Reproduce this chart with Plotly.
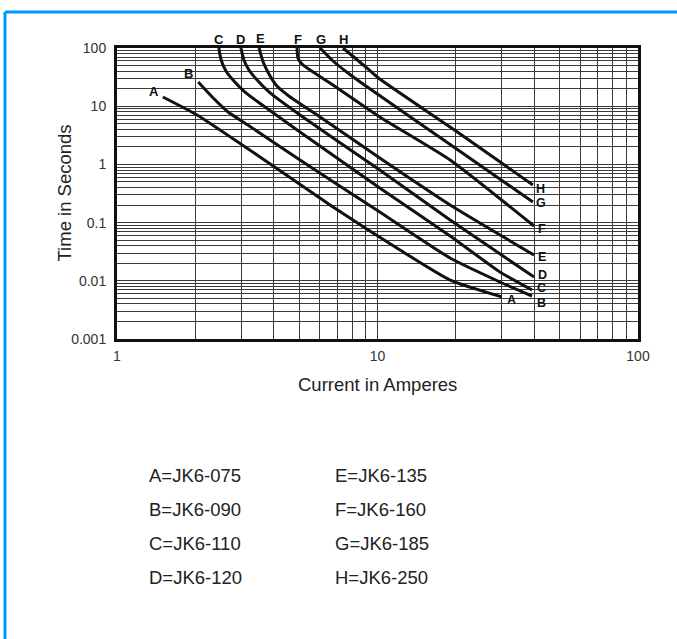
import math
import plotly.graph_objects as go

# ---- data ----
curve_names = ["A", "B", "C", "D", "E", "F", "G", "H"]
part_numbers = ["JK6-075", "JK6-090", "JK6-110", "JK6-120", "JK6-135", "JK6-160", "JK6-185", "JK6-250"]

A_current = [1.50, 2.03, 3.54, 6.75, 12.2, 19.0, 30.0]
A_time = [14.4, 7.06, 1.34, 0.185, 0.0338, 0.0103, 0.0053]

B_current = [2.05, 2.32, 2.67, 3.18, 5.04, 10.2, 19.0, 29.5, 39.2]
B_time = [26.0, 14.4, 7.95, 4.75, 1.19, 0.152, 0.0246, 0.00954, 0.00548]

C_current = [2.46, 2.51, 2.62, 2.81, 3.10, 3.48, 5.04, 10.2, 19.0, 29.5, 39.2]
C_time = [100, 62.2, 40.3, 27.1, 17.5, 11.8, 3.60, 0.393, 0.0589, 0.0142, 0.00695]

D_current = [2.99, 3.07, 3.21, 3.45, 3.87, 5.04, 10.2, 19.0, 39.9]
D_time = [100, 62.2, 41.9, 28.2, 16.9, 7.06, 0.801, 0.111, 0.0116]

E_current = [3.51, 3.64, 3.83, 4.11, 4.62, 6.02, 10.2, 19.0, 39.9]
E_time = [100, 57.5, 35.8, 22.2, 14.4, 6.52, 1.29, 0.201, 0.0277]

F_current = [4.91, 4.95, 5.13, 5.51, 6.57, 10.2, 19.0, 39.9]
F_time = [100, 67.3, 53.1, 41.9, 25.0, 6.52, 1.19, 0.0874]

G_current = [6.02, 6.75, 7.70, 8.80, 18.65, 39.5]
G_time = [100, 59.8, 37.2, 24.1, 2.33, 0.226]

H_current = [7.37, 8.20, 9.19, 10.2, 20.0, 39.5]
H_time = [100, 67.3, 43.6, 29.3, 3.75, 0.443]

y_tick_vals = [100, 10, 1, 0.1, 0.01, 0.001]
y_tick_text = ["100", "10", "1", "0.1", "0.01", "0.001"]
x_tick_vals = [1, 10, 100]
x_tick_text = ["1", "10", "100"]

curves = {
    "A": (A_current, A_time), "B": (B_current, B_time), "C": (C_current, C_time),
    "D": (D_current, D_time), "E": (E_current, E_time), "F": (F_current, F_time),
    "G": (G_current, G_time), "H": (H_current, H_time),
}

# label offsets (pixels) for start and end labels
start_label = {"A": (-9, 5), "B": (-10, 9), "C": (0, 9), "D": (0, 9), "E": (1, 10),
               "F": (1, 9), "G": (1, 9), "H": (1, 9)}
end_label = {"A": (10, -3), "B": (9, -7), "C": (9, 2), "D": (8, 2), "E": (8, -2),
             "F": (8, -3), "G": (8, -1), "H": (8, -4)}

FONT = "Liberation Sans, Arial, sans-serif"

fig = go.Figure()
for name in curve_names:
    xs, ys = curves[name]
    fig.add_trace(go.Scatter(x=xs, y=ys, mode="lines", name=name,
                             line=dict(color="#111111", width=3, shape="spline", smoothing=0.5),
                             showlegend=False, hoverinfo="skip"))

annotations = []
for name in curve_names:
    xs, ys = curves[name]
    dx, dy = start_label[name]
    annotations.append(dict(x=math.log10(xs[0]), y=math.log10(ys[0]), xref="x", yref="y",
                            text="<b>%s</b>" % name, showarrow=False, xshift=dx, yshift=dy,
                            xanchor="center", yanchor="middle",
                            font=dict(family=FONT, size=13, color="#111111")))
    dx, dy = end_label[name]
    annotations.append(dict(x=math.log10(xs[-1]), y=math.log10(ys[-1]), xref="x", yref="y",
                            text="<b>%s</b>" % name, showarrow=False, xshift=dx, yshift=dy,
                            xanchor="center", yanchor="middle",
                            font=dict(family=FONT, size=12.5, color="#111111")))

# axis titles
annotations.append(dict(x=0.5, y=(339 - 385) / 291, xref="paper", yref="paper", text="Current in Amperes",
                        xanchor="center", yanchor="middle",
                        showarrow=False, font=dict(family=FONT, size=18.5, color="#222222")))
annotations.append(dict(x=(64 - 117) / 521, y=0.5, xref="paper", yref="paper", text="Time in Seconds",
                        xanchor="center", yanchor="middle",
                        textangle=-90, showarrow=False, font=dict(family=FONT, size=18.5, color="#222222")))

# part-number key, two columns
for i, (name, pn) in enumerate(zip(curve_names, part_numbers)):
    col = i // 4
    row = i % 4
    annotations.append(dict(x=(147 - 117) / 521 + col * (186 / 521), y=(339 - 475 - row * 34) / 291,
                            xref="paper", yref="paper", xanchor="left", yanchor="middle",
                            text="%s=%s" % (name, pn), showarrow=False,
                            font=dict(family=FONT, size=18.5, color="#222222")))

shapes = [
    dict(type="line", xref="paper", yref="paper", x0=(5 - 117) / 521, x1=(680 - 117) / 521,
         y0=(339 - 12) / 291, y1=(339 - 12) / 291, line=dict(color="#0096FF", width=3)),
    dict(type="line", xref="paper", yref="paper", x0=(5 - 117) / 521, x1=(5 - 117) / 521,
         y0=(339 - 12) / 291, y1=(339 - 645) / 291, line=dict(color="#0096FF", width=3)),
]

grid_color = "#3a3a3a"
fig.update_xaxes(type="log", range=[0, 2], tickvals=x_tick_vals, ticktext=x_tick_text,
                 showgrid=True, gridcolor=grid_color, gridwidth=1,
                 minor=dict(dtick="D1", showgrid=True, gridcolor=grid_color, gridwidth=1),
                 showline=True, linecolor="#111111", linewidth=3, mirror=True,
                 ticks="", ticklabelstandoff=2, zeroline=False,
                 tickfont=dict(family=FONT, size=14, color="#333333"))
fig.update_yaxes(type="log", range=[-3, 2], tickvals=y_tick_vals, ticktext=y_tick_text,
                 showgrid=True, gridcolor=grid_color, gridwidth=1,
                 minor=dict(dtick="D1", showgrid=True, gridcolor=grid_color, gridwidth=1),
                 showline=True, linecolor="#111111", linewidth=3, mirror=True,
                 ticks="", ticklabelstandoff=5, zeroline=False,
                 tickfont=dict(family=FONT, size=14, color="#333333"))

fig.update_layout(width=677, height=639, margin=dict(l=117, r=39, t=48, b=300),
                  paper_bgcolor="white", plot_bgcolor="white",
                  annotations=annotations, shapes=shapes)

fig.write_html("out.html", config={"displayModeBar": False},
               post_script="document.body.style.margin='0px';document.body.style.overflow='hidden';")
